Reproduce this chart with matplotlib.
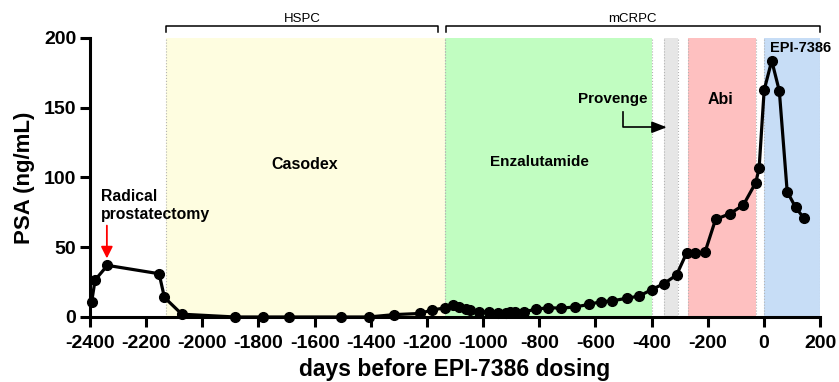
import matplotlib
matplotlib.use("Agg")
import matplotlib.pyplot as plt

plt.rcParams['font.family'] = ['Liberation Sans', 'DejaVu Sans']
plt.rcParams['axes.unicode_minus'] = False

# PSA readings (days relative to first EPI-7386 dose)
days = [-2394, -2382, -2338, -2154, -2135, -2073, -1884, -1785, -1692, -1507,
        -1408, -1316, -1226, -1182, -1136, -1108, -1086, -1060, -1045, -1016,
        -979, -946, -918, -904, -887, -853, -812, -768, -723, -673,
        -622, -581, -542, -489, -444, -400, -356, -311, -275, -244,
        -210, -172, -121, -73, -29, -17, 1, 28, 55, 83,
        113, 143]
psa = [11, 26.5, 37, 31, 14, 2, 0, 0, 0, 0,
       0, 1.7, 2.5, 5, 6.5, 8.5, 7.2, 5.8, 4.8, 3.8,
       3.6, 3, 3.2, 3.3, 3.3, 3.8, 5.5, 6.7, 6.3, 7.2,
       9, 11, 11.5, 13.4, 15, 19.6, 23.9, 30.1, 46, 45.6,
       46.3, 70, 74, 80.3, 96.3, 106.6, 162.7, 183.7, 162, 89.8,
       78.6, 70.7]

# treatment windows
treat_names = ['Casodex', 'Enzalutamide', 'Provenge', 'Abi', 'EPI-7386']
treat_start = [-2130, -1136, -356, -269, 0]
treat_end = [-1136, -400, -307, -29, 200]
treat_colors = ['#FEFDE0', '#C1FDC1', '#E6E6E6', '#FEC0C0', '#C7DDF6']

fig = plt.figure(figsize=(8.39, 3.82), dpi=100)
ax = fig.add_axes([0.1073, 0.1702, 0.8701, 0.7304])

for s, e, c in zip(treat_start, treat_end, treat_colors):
    ax.axvspan(s, e, color=c, lw=0, zorder=0)
    for b in (s, e):
        ax.axvline(b, color='#B4B4B4', ls=':', lw=0.8, zorder=1)

ax.plot(days, psa, color='black', lw=2.3, marker='o', ms=7, zorder=5, clip_on=False)

# labels for treatments
lab = dict(fontsize=11.5, fontweight='bold', ha='center', va='center')
ax.text(-1634, 109, 'Casodex', **lab)
ax.text(-799, 111, 'Enzalutamide', fontsize=11, fontweight='bold', ha='center', va='center')
ax.text(-540, 156, 'Provenge', fontsize=11, fontweight='bold', ha='center', va='center')
ax.text(-153, 156, 'Abi', **lab)
ax.text(130, 193, 'EPI-7386', fontsize=10.5, fontweight='bold', ha='center', va='center')
ax.text(-2360, 80, 'Radical\nprostatectomy', fontsize=11.3, fontweight='bold',
        ha='left', va='center', linespacing=1.3)

# red arrow for surgery
ax.annotate('', xy=(-2340, 40), xytext=(-2340, 67.5),
            arrowprops=dict(arrowstyle='-|>,head_width=0.35,head_length=0.7',
                            color='red', lw=1.3))
# provenge arrow
ax.plot([-501, -501, -380], [147, 136, 136], color='black', lw=1.2, clip_on=False)
ax.annotate('', xy=(-336, 136), xytext=(-390, 136),
            arrowprops=dict(arrowstyle='-|>,head_width=0.35,head_length=0.9',
                            color='black', lw=1.2))

# disease-stage brackets
for x0, x1, name in [(-2129, -1162, 'HSPC'), (-1133, 199, 'mCRPC')]:
    ax.plot([x0, x0, x1, x1], [204, 208.6, 208.6, 204], color='black', lw=1.1,
            clip_on=False)
    ax.text((x0 + x1) / 2, 209.5, name, fontsize=9.5, ha='center', va='bottom')

ax.set_xlim(-2400, 200)
ax.set_ylim(0, 200)
ax.set_xticks(range(-2400, 201, 200))
ax.set_yticks(range(0, 201, 50))
ax.spines['top'].set_visible(False)
ax.spines['right'].set_visible(False)
for sp in ('left', 'bottom'):
    ax.spines[sp].set_linewidth(2.2)
ax.tick_params(width=2.2, length=7, labelsize=14)
ax.tick_params(axis='x', pad=6)
ax.tick_params(axis='y', pad=3)
for t in ax.get_xticklabels() + ax.get_yticklabels():
    t.set_fontweight('bold')
ax.set_xlabel('days before EPI-7386 dosing', fontsize=16.5, fontweight='bold', labelpad=4)
ax.set_ylabel('PSA (ng/mL)', fontsize=16, fontweight='bold', labelpad=6)

fig.savefig('out.png', dpi=100)
